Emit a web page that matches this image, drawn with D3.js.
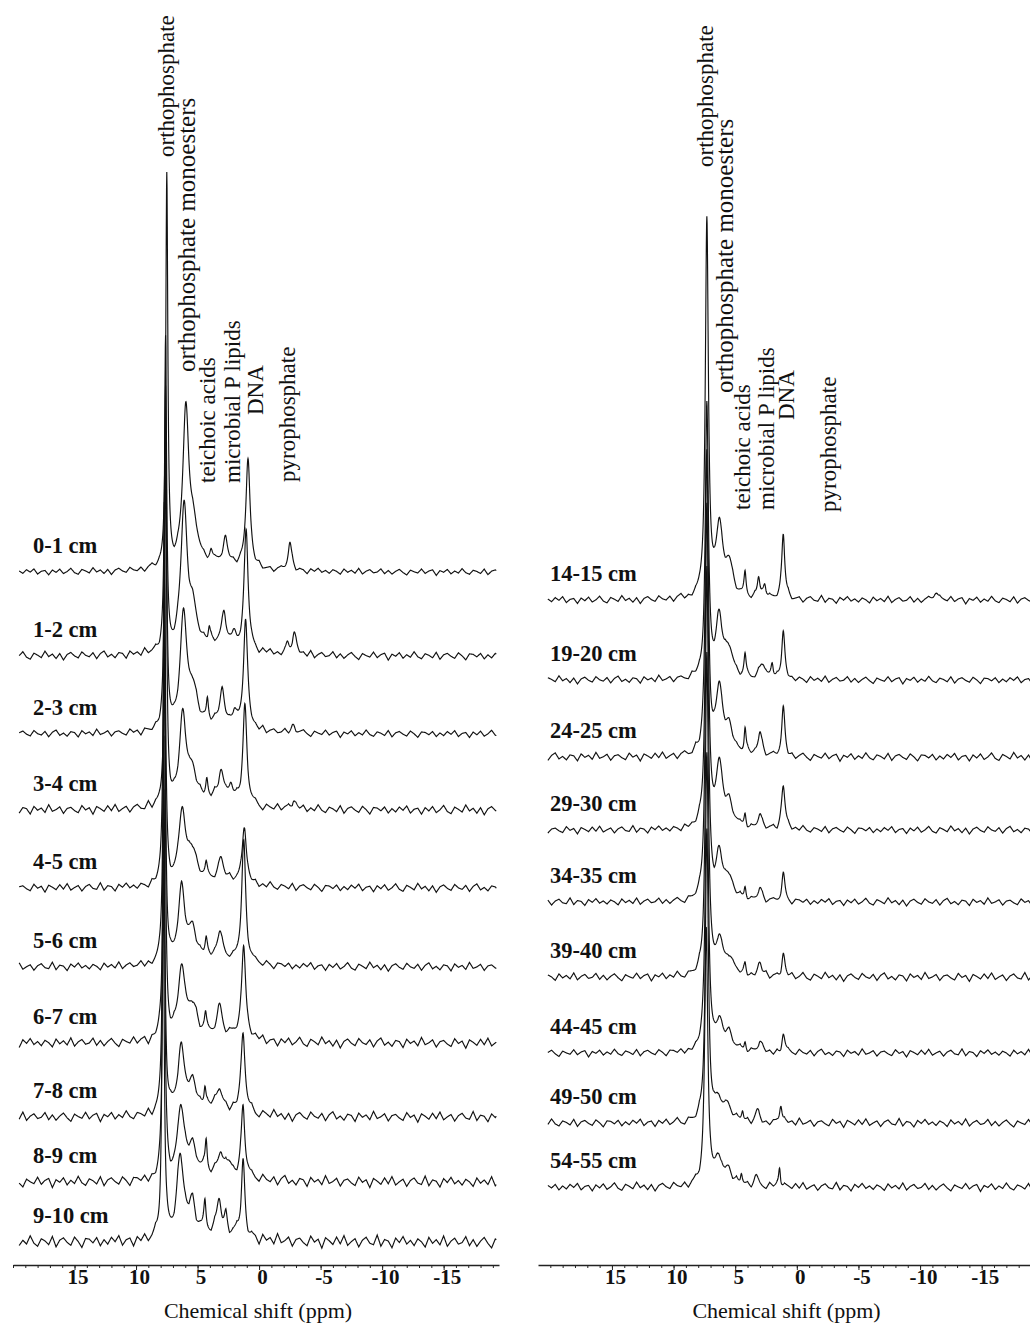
<!DOCTYPE html>
<html>
<head>
<meta charset="utf-8">
<script src="https://cdn.jsdelivr.net/npm/d3@7"></script>
<style>
  body { margin: 0; background: #fff; }
  svg { display: block; }
  text { font-family: "Liberation Serif", "Times New Roman", serif; fill: #111; }
  .depth { font-size: 22.5px; font-weight: bold; }
  .peak__label { font-size: 23px; }
  .peak__label--long { font-size: 25px; }
  .axis__title { font-size: 22px; }
  .axis text { font-size: 21px; font-weight: bold; font-family: "Liberation Serif", serif; }
  .axis path, .axis line { stroke: #222; }
  .trace { fill: none; stroke: #111; stroke-width: 1.15; }
</style>
</head>
<body>
<script>
// ---- data (ppm, intensity in arbitrary units) ----
const leftDepths = ["0-1 cm","1-2 cm","2-3 cm","3-4 cm","4-5 cm","5-6 cm","6-7 cm","7-8 cm","8-9 cm","9-10 cm"];
const rightDepths = ["14-15 cm","19-20 cm","24-25 cm","29-30 cm","34-35 cm","39-40 cm","44-45 cm","49-50 cm","54-55 cm"];

// stacking offset of each trace
const leftOffsets = [69.3, 60.9, 53.1, 45.5, 37.7, 29.8, 22.2, 14.8, 8.3, 2.3];
const rightOffsets = [66.5, 58.5, 50.8, 43.5, 36.3, 28.8, 21.2, 14.2, 7.8];

// baseline noise size per trace
const leftNoise = [0.4, 0.5, 0.45, 0.55, 0.5, 0.5, 0.6, 0.6, 0.65, 0.75];
const rightNoise = [0.45, 0.45, 0.5, 0.45, 0.45, 0.5, 0.45, 0.5, 0.5];

// peaks of each trace: [ppm, height, half width]
const leftPeaks = [
  [[7.5,39,0.1],[5.95,15.5,0.3],[5.3,3.2,0.45],[3.0,0.9,1.8],[3.9,0.8,0.12],[2.75,2.2,0.2],[0.9,11,0.2],[-2.5,2.8,0.18]],
  [[7.6,31,0.1],[6.1,14,0.32],[5.4,3.5,0.45],[3.2,1,1.8],[4.05,1.2,0.1],[2.85,3.2,0.22],[2.0,1,0.2],[1.05,12,0.2],[-2.85,2.2,0.2],[-2.3,1,0.15]],
  [[7.6,34,0.1],[6.15,11,0.33],[5.4,3.5,0.45],[3.2,1,1.8],[4.2,2,0.1],[3.0,3,0.22],[2.0,1.2,0.2],[1.1,11,0.2],[-2.8,0.8,0.2]],
  [[7.6,36,0.1],[6.2,9,0.33],[5.4,3,0.45],[3.2,0.9,1.8],[4.25,1.6,0.1],[3.1,2.8,0.25],[2.3,1.5,0.2],[1.15,10,0.2],[-2.8,1,0.2]],
  [[7.7,38,0.1],[6.25,7.2,0.33],[5.4,3,0.45],[3.2,0.8,1.8],[4.3,1.2,0.1],[3.1,2,0.25],[1.2,6,0.2]],
  [[7.7,39,0.1],[6.3,7.2,0.33],[5.4,3,0.45],[3.2,0.8,1.8],[4.3,1.5,0.1],[3.2,2.4,0.25],[1.25,12,0.2]],
  [[7.7,40,0.1],[6.3,7.2,0.33],[5.4,3,0.45],[3.2,0.8,1.8],[4.35,1.6,0.1],[3.2,2.6,0.25],[1.25,9.5,0.2]],
  [[7.75,38,0.1],[6.35,6.4,0.33],[5.4,2.8,0.45],[3.2,0.8,1.8],[4.4,1.8,0.1],[3.25,2,0.25],[1.3,8,0.2]],
  [[7.75,39,0.1],[6.35,7.2,0.33],[5.4,2.8,0.45],[3.2,0.8,1.8],[4.3,3,0.1],[3.1,2,0.25],[2.4,1,0.2],[1.3,7.5,0.18]],
  [[7.8,38,0.1],[6.4,7.8,0.33],[5.45,3.4,0.4],[3.2,0.8,1.8],[4.4,2.7,0.1],[3.25,3.2,0.22],[2.7,1.5,0.15],[1.3,7.9,0.17]]
];
const rightPeaks = [
  [[7.3,37.3,0.15],[6.3,6.8,0.32],[5.5,3.2,0.4],[4.2,2.3,0.1],[3.1,2,0.12],[2.6,1.5,0.15],[1.1,6.5,0.15],[-11.3,1,0.2]],
  [[7.3,27,0.15],[6.3,5.8,0.32],[5.5,2.7,0.4],[4.2,2.1,0.1],[2.8,1.6,0.25],[2.0,1.6,0.12],[1.1,4.6,0.15]],
  [[7.3,30,0.15],[6.3,6.3,0.32],[5.5,2.7,0.4],[4.2,2.6,0.1],[3.0,2.3,0.2],[1.1,4.8,0.15]],
  [[7.3,32,0.15],[6.3,6,0.32],[5.5,2.4,0.4],[4.2,1.4,0.1],[3.0,1.4,0.2],[1.1,4.3,0.18]],
  [[7.3,33,0.15],[6.3,4.4,0.32],[5.5,2.2,0.4],[4.2,1.3,0.1],[3.0,1.3,0.2],[1.1,2.8,0.15]],
  [[7.3,32,0.15],[6.3,3.3,0.32],[5.5,1.8,0.4],[4.2,1.1,0.1],[3.0,1.2,0.2],[1.1,2.3,0.15]],
  [[7.3,30,0.15],[6.3,2.9,0.32],[5.5,1.7,0.4],[4.2,1,0.1],[3.0,1,0.2],[1.1,1.9,0.15]],
  [[7.3,29,0.15],[6.4,2.3,0.28],[5.6,1.6,0.4],[4.4,1,0.1],[3.2,1,0.2],[1.3,2,0.12]],
  [[7.35,26,0.15],[6.4,2.8,0.28],[5.6,1.6,0.4],[4.5,1.1,0.1],[3.3,1,0.2],[1.4,2.1,0.1]]
];

// hand-drawn baseline wiggle, one value per 0.3 ppm
const wiggle = [0.2,-0.4,0.5,-0.1,0.7,-0.6,0.1,0.3,-0.8,0.4,-0.2,0.6,-0.5,0.0,0.8,-0.3,-0.7,0.5,0.1,-0.4,
  0.9,-0.2,0.3,-0.6,0.4,-0.9,0.2,0.6,-0.1,-0.5,0.7,0.0,-0.3,0.5,-0.7,0.3,0.8,-0.4,0.1,-0.6,
  0.4,0.2,-0.8,0.6,-0.1,0.3,-0.5,0.9,-0.3,0.0,0.5,-0.7,0.2,0.4,-0.2,-0.6,0.7,-0.1,0.3,-0.9,
  0.5,0.1,-0.4,0.6,-0.3,0.8,-0.5,0.0,0.4,-0.7,0.2,0.6,-0.2,-0.4,0.9,-0.6,0.3,0.1,-0.8,0.5,
  -0.1,0.7,-0.3,0.2,-0.5,0.4,0.0,-0.7,0.6,-0.2,0.3,-0.4,0.8,-0.6,0.1,0.5,-0.3,-0.1,0.7,-0.5,
  0.3,-0.6,0.1,0.6,-0.2,-0.8,0.4,0.0,-0.3,0.7,-0.4,0.2,0.5,-0.9,0.3,-0.1,0.6,-0.5,0.2,-0.3,
  0.8,-0.2,-0.6,0.4,0.1,-0.4,0.7,-0.7,0.2,0.5,-0.1,-0.5,0.6,0.0,-0.8,0.4,0.3,-0.2,0.5,-0.6];

// peak annotations: [text, ppm, intensity at start of text]
const leftNotes = [["orthophosphate",6.92,110.8],["orthophosphate monoesters",5.29,89.3],["teichoic acids",3.58,78.2],
  ["microbial P lipids",1.55,78.2],["DNA",-0.33,85],["pyrophosphate",-2.93,78.3]];
const rightNotes = [["orthophosphate",6.78,109.8],["orthophosphate monoesters",5.22,87.2],["teichoic acids",3.76,75.5],
  ["microbial P lipids",1.88,75.5],["DNA",0.24,84.5],["pyrophosphate",-3.18,75.3]];

const majorTicks = [15, 10, 5, 0, -5, -10, -15];
const minorTicks = d3.range(20, -20, -1);

// ---- drawing ----
const width = 1030, height = 1333;
const axisY = 1265;
const step = 0.3;
const svg = d3.select("body").append("svg").attr("width", width).attr("height", height);
const y = d3.scaleLinear().domain([0, 110]).range([axisY, 165]);

drawPanel({ depths: leftDepths, offsets: leftOffsets, noise: leftNoise, peaks: leftPeaks, notes: leftNotes,
  domain: [20, -19.5], range: [13, 499], span: [19.5, -19.3], labelX: 33, shift: 13 });
drawPanel({ depths: rightDepths, offsets: rightOffsets, noise: rightNoise, peaks: rightPeaks, notes: rightNotes,
  domain: [21, -19], range: [538, 1031], span: [20.2, -19.1], labelX: 550, shift: 17 });

function lorentz(p, pk) {
  const d = p - pk[0];
  return pk[1] * pk[2] * pk[2] / (d * d + pk[2] * pk[2]);
}

function wiggleAt(pos) {
  const n = wiggle.length;
  const i = Math.floor(pos);
  const t = pos - i;
  return wiggle[i % n] * (1 - t) + wiggle[(i + 1) % n] * t;
}

function drawPanel(cfg) {
  const x = d3.scaleLinear().domain(cfg.domain).range(cfg.range);
  const line = d3.line().x(d => x(d[0])).y(d => y(d[1]));
  const g = svg.append("g");

  cfg.depths.forEach((label, i) => {
    const pts = d3.range(cfg.span[0], cfg.span[1], -0.02).map(p => {
      let v = cfg.offsets[i] + cfg.noise[i] * wiggleAt((cfg.span[0] - p) / step + i * cfg.shift);
      cfg.peaks[i].forEach(pk => { v += lorentz(p, pk); });
      return [p, v];
    });
    g.append("path").datum(pts).attr("class", "trace").attr("d", line);
    g.append("text").attr("class", "depth")
      .attr("x", cfg.labelX).attr("y", y(cfg.offsets[i]) - 19)
      .text(label);
  });

  cfg.notes.forEach(([txt, ppm, v]) => {
    g.append("text").attr("class", txt.length > 20 ? "peak__label peak__label--long" : "peak__label")
      .attr("transform", `translate(${x(ppm) + (txt.length > 20 ? 1 : 0)},${y(v)}) rotate(-90)`)
      .text(txt);
  });

  // minor ticks
  g.append("g").attr("class", "axis")
    .attr("transform", `translate(0,${axisY})`)
    .call(d3.axisBottom(x).tickValues(minorTicks).tickSize(3).tickSizeOuter(0).tickFormat(""))
    .call(a => a.select(".domain").attr("stroke-width", 1.4));
  // major ticks + labels
  const major = g.append("g").attr("class", "axis")
    .attr("transform", `translate(0,${axisY})`)
    .call(d3.axisBottom(x).tickValues(majorTicks).tickSize(5).tickSizeOuter(0).tickFormat(d => String(d)));
  major.select(".domain").remove();
  major.selectAll("text").attr("y", 19).attr("dy", 0).attr("dx", 3).attr("fill", "#111");

  g.append("text").attr("class", "axis__title")
    .attr("x", (cfg.range[0] + cfg.range[1]) / 2 + 2).attr("y", 1318)
    .attr("text-anchor", "middle")
    .text("Chemical shift (ppm)");
}
</script>
</body>
</html>
